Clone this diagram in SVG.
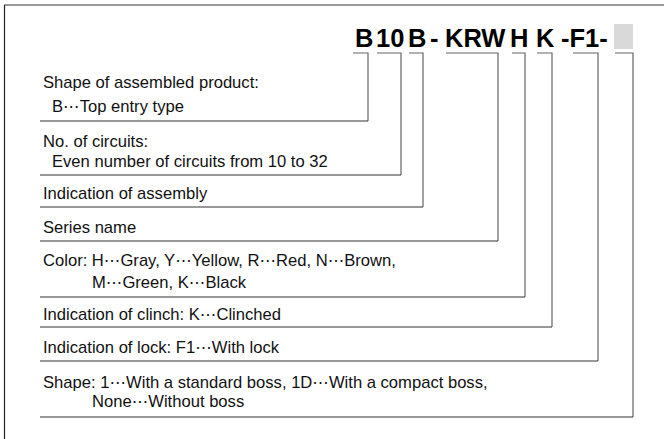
<svg xmlns="http://www.w3.org/2000/svg" width="664" height="439" viewBox="0 0 664 439">
<style>
.t{font-family:"Liberation Sans",Arial,sans-serif;font-size:16.6px;fill:#111}
.d{font-family:"DejaVu Sans","Noto Sans CJK JP",sans-serif}
.c{font-family:"Liberation Sans",Arial,sans-serif;font-size:25.5px;font-weight:bold;fill:#000}
.sep{stroke:#333;stroke-width:1.2;fill:none}
.br{stroke:#666;stroke-width:1.2;fill:none}
</style>
<rect width="664" height="439" fill="#fff"/>
<g id="frame">
<line x1="4" y1="5" x2="664" y2="5" stroke="#777" stroke-width="1.6"/>
<line x1="4.5" y1="5" x2="4.5" y2="439" stroke="#222" stroke-width="1.2"/>
</g>
<g id="code">
<text class="c" x="355" y="47">B</text>
<text class="c" x="376" y="47">10</text>
<text class="c" x="408" y="47">B</text>
<text class="c" x="430" y="47">-</text>
<text class="c" x="445" y="47">KRW</text>
<text class="c" x="510" y="47">H</text>
<text class="c" x="536" y="47">K</text>
<text class="c" x="561" y="47">-F1-</text>
<rect x="614" y="24" width="19" height="25" fill="#d9d9d9"/>
</g>
<g id="connectors">
<path class="br" d="M353,53 H368 V121"/>
<path class="br" d="M377,53 H401 V175"/>
<path class="br" d="M409,53 H423 V207"/>
<path class="br" d="M446,53 H498 V241"/>
<path class="br" d="M512,53 H525 V297"/>
<path class="br" d="M537,53 H552 V327"/>
<path class="br" d="M573,53 H598 V361"/>
<path class="br" d="M615,53 H633 V417"/>
<path class="sep" d="M40,121 H368"/>
<path class="sep" d="M40,175 H401"/>
<path class="sep" d="M40,207 H423"/>
<path class="sep" d="M40,241 H498"/>
<path class="sep" d="M40,297 H525"/>
<path class="sep" d="M40,327 H552"/>
<path class="sep" d="M40,361 H598"/>
<path class="sep" d="M40,417 H633"/>
</g>
<g id="shape-product">
<text class="t" x="43" y="88">Shape of assembled product:</text>
<text class="t" x="52" y="112">B<tspan class="d">⋯</tspan>Top entry type</text>
</g>
<g id="circuits">
<text class="t" x="43" y="147">No. of circuits:</text>
<text class="t" x="52" y="167">Even number of circuits from 10 to 32</text>
</g>
<g id="assembly">
<text class="t" x="43" y="199">Indication of assembly</text>
</g>
<g id="series">
<text class="t" x="43" y="233">Series name</text>
</g>
<g id="color">
<text class="t" x="43" y="266">Color: H<tspan class="d">⋯</tspan>Gray, Y<tspan class="d">⋯</tspan>Yellow, R<tspan class="d">⋯</tspan>Red, N<tspan class="d">⋯</tspan>Brown,</text>
<text class="t" x="92" y="288">M<tspan class="d">⋯</tspan>Green, K<tspan class="d">⋯</tspan>Black</text>
</g>
<g id="clinch">
<text class="t" x="43" y="320">Indication of clinch: K<tspan class="d">⋯</tspan>Clinched</text>
</g>
<g id="lock">
<text class="t" x="43" y="353">Indication of lock: F1<tspan class="d">⋯</tspan>With lock</text>
</g>
<g id="shape-boss">
<text class="t" x="43" y="388">Shape: 1<tspan class="d">⋯</tspan>With a standard boss, 1D<tspan class="d">⋯</tspan>With a compact boss,</text>
<text class="t" x="92" y="407">None<tspan class="d">⋯</tspan>Without boss</text>
</g>
</svg>
